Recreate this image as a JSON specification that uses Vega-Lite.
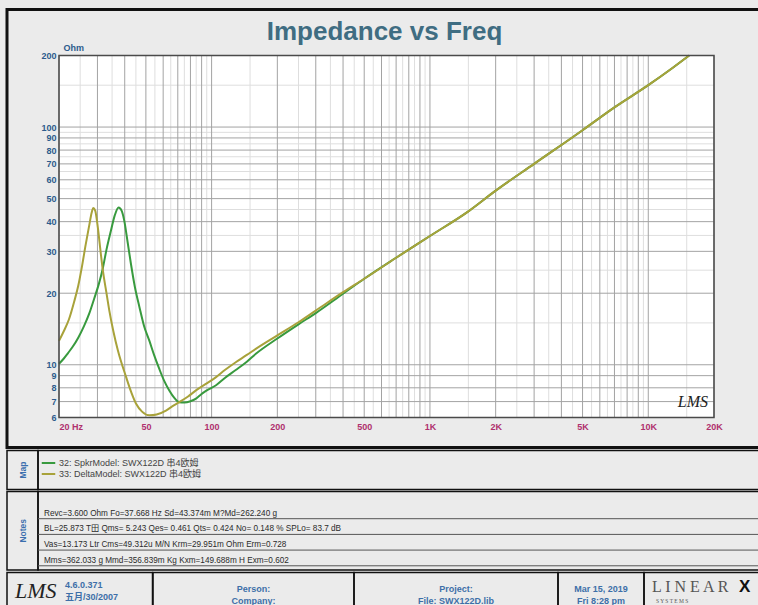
{
  "$schema": "https://vega.github.io/schema/vega-lite/v6.json",
  "background": "#ebebeb",
  "padding": {"left": 5, "top": 7.5, "right": 0, "bottom": 0},
  "spacing": 0,
  "config": {
    "view": {"stroke": "#111111", "strokeWidth": 1.5},
    "font": "Liberation Sans"
  },
  "datasets": {
    "curves": [
      {"series": "32: SpkrModel: SWX122D  串4欧姆", "f": 20, "z": 10.1},
      {"series": "32: SpkrModel: SWX122D  串4欧姆", "f": 21, "z": 10.6},
      {"series": "32: SpkrModel: SWX122D  串4欧姆", "f": 22, "z": 11.2},
      {"series": "32: SpkrModel: SWX122D  串4欧姆", "f": 23.1, "z": 11.9},
      {"series": "32: SpkrModel: SWX122D  串4欧姆", "f": 24.5, "z": 13.0},
      {"series": "32: SpkrModel: SWX122D  串4欧姆", "f": 26, "z": 14.5},
      {"series": "32: SpkrModel: SWX122D  串4欧姆", "f": 27.5, "z": 16.4},
      {"series": "32: SpkrModel: SWX122D  串4欧姆", "f": 29, "z": 19.0},
      {"series": "32: SpkrModel: SWX122D  串4欧姆", "f": 30.5, "z": 22.0},
      {"series": "32: SpkrModel: SWX122D  串4欧姆", "f": 31.7, "z": 25.3},
      {"series": "32: SpkrModel: SWX122D  串4欧姆", "f": 33, "z": 30.5},
      {"series": "32: SpkrModel: SWX122D  串4欧姆", "f": 34.6, "z": 36.7},
      {"series": "32: SpkrModel: SWX122D  串4欧姆", "f": 36, "z": 42.5},
      {"series": "32: SpkrModel: SWX122D  串4欧姆", "f": 37.5, "z": 45.9},
      {"series": "32: SpkrModel: SWX122D  串4欧姆", "f": 38.7, "z": 44.5},
      {"series": "32: SpkrModel: SWX122D  串4欧姆", "f": 39.8, "z": 40.4},
      {"series": "32: SpkrModel: SWX122D  串4欧姆", "f": 41.2, "z": 33.0},
      {"series": "32: SpkrModel: SWX122D  串4欧姆", "f": 42.7, "z": 26.6},
      {"series": "32: SpkrModel: SWX122D  串4欧姆", "f": 44.5, "z": 21.3},
      {"series": "32: SpkrModel: SWX122D  串4欧姆", "f": 46.7, "z": 17.5},
      {"series": "32: SpkrModel: SWX122D  串4欧姆", "f": 49, "z": 14.6},
      {"series": "32: SpkrModel: SWX122D  串4欧姆", "f": 51.9, "z": 12.6},
      {"series": "32: SpkrModel: SWX122D  串4欧姆", "f": 54.5, "z": 11.0},
      {"series": "32: SpkrModel: SWX122D  串4欧姆", "f": 57.6, "z": 9.6},
      {"series": "32: SpkrModel: SWX122D  串4欧姆", "f": 60.5, "z": 8.6},
      {"series": "32: SpkrModel: SWX122D  串4欧姆", "f": 64, "z": 7.8},
      {"series": "32: SpkrModel: SWX122D  串4欧姆", "f": 67.5, "z": 7.25},
      {"series": "32: SpkrModel: SWX122D  串4欧姆", "f": 71, "z": 6.96},
      {"series": "32: SpkrModel: SWX122D  串4欧姆", "f": 75, "z": 6.93},
      {"series": "32: SpkrModel: SWX122D  串4欧姆", "f": 80, "z": 7.02},
      {"series": "32: SpkrModel: SWX122D  串4欧姆", "f": 84.8, "z": 7.2},
      {"series": "32: SpkrModel: SWX122D  串4欧姆", "f": 89.4, "z": 7.5},
      {"series": "32: SpkrModel: SWX122D  串4欧姆", "f": 95, "z": 7.8},
      {"series": "32: SpkrModel: SWX122D  串4欧姆", "f": 104.8, "z": 8.2},
      {"series": "32: SpkrModel: SWX122D  串4欧姆", "f": 115, "z": 8.8},
      {"series": "32: SpkrModel: SWX122D  串4欧姆", "f": 129, "z": 9.5},
      {"series": "32: SpkrModel: SWX122D  串4欧姆", "f": 145, "z": 10.3},
      {"series": "32: SpkrModel: SWX122D  串4欧姆", "f": 160, "z": 11.15},
      {"series": "32: SpkrModel: SWX122D  串4欧姆", "f": 200, "z": 12.9},
      {"series": "32: SpkrModel: SWX122D  串4欧姆", "f": 250, "z": 14.8},
      {"series": "32: SpkrModel: SWX122D  串4欧姆", "f": 300, "z": 16.5},
      {"series": "32: SpkrModel: SWX122D  串4欧姆", "f": 400, "z": 19.9},
      {"series": "32: SpkrModel: SWX122D  串4欧姆", "f": 500, "z": 23.0},
      {"series": "32: SpkrModel: SWX122D  串4欧姆", "f": 700, "z": 28.2},
      {"series": "32: SpkrModel: SWX122D  串4欧姆", "f": 1000, "z": 34.8},
      {"series": "32: SpkrModel: SWX122D  串4欧姆", "f": 1500, "z": 44.2},
      {"series": "32: SpkrModel: SWX122D  串4欧姆", "f": 2000, "z": 54},
      {"series": "32: SpkrModel: SWX122D  串4欧姆", "f": 3000, "z": 70},
      {"series": "32: SpkrModel: SWX122D  串4欧姆", "f": 5000, "z": 97},
      {"series": "32: SpkrModel: SWX122D  串4欧姆", "f": 7000, "z": 121},
      {"series": "32: SpkrModel: SWX122D  串4欧姆", "f": 10000, "z": 150},
      {"series": "32: SpkrModel: SWX122D  串4欧姆", "f": 13000, "z": 178},
      {"series": "32: SpkrModel: SWX122D  串4欧姆", "f": 15400, "z": 200},
      {"series": "33: DeltaModel: SWX122D  串4欧姆", "f": 20, "z": 12.6},
      {"series": "33: DeltaModel: SWX122D  串4欧姆", "f": 21, "z": 13.8},
      {"series": "33: DeltaModel: SWX122D  串4欧姆", "f": 22.2, "z": 15.5},
      {"series": "33: DeltaModel: SWX122D  串4欧姆", "f": 23.5, "z": 18.5},
      {"series": "33: DeltaModel: SWX122D  串4欧姆", "f": 24.5, "z": 21.5},
      {"series": "33: DeltaModel: SWX122D  串4欧姆", "f": 25.5, "z": 26.0},
      {"series": "33: DeltaModel: SWX122D  串4欧姆", "f": 26.5, "z": 32.0},
      {"series": "33: DeltaModel: SWX122D  串4欧姆", "f": 27.5, "z": 38.5},
      {"series": "33: DeltaModel: SWX122D  串4欧姆", "f": 28.2, "z": 43.5},
      {"series": "33: DeltaModel: SWX122D  串4欧姆", "f": 28.7, "z": 45.7},
      {"series": "33: DeltaModel: SWX122D  串4欧姆", "f": 29.3, "z": 44.5},
      {"series": "33: DeltaModel: SWX122D  串4欧姆", "f": 30.1, "z": 38.0},
      {"series": "33: DeltaModel: SWX122D  串4欧姆", "f": 31, "z": 30.0},
      {"series": "33: DeltaModel: SWX122D  串4欧姆", "f": 31.7, "z": 25.3},
      {"series": "33: DeltaModel: SWX122D  串4欧姆", "f": 33, "z": 20.0},
      {"series": "33: DeltaModel: SWX122D  串4欧姆", "f": 34, "z": 16.9},
      {"series": "33: DeltaModel: SWX122D  串4欧姆", "f": 35.5, "z": 13.8},
      {"series": "33: DeltaModel: SWX122D  串4欧姆", "f": 37.2, "z": 11.5},
      {"series": "33: DeltaModel: SWX122D  串4欧姆", "f": 40.6, "z": 8.87},
      {"series": "33: DeltaModel: SWX122D  串4欧姆", "f": 43, "z": 7.6},
      {"series": "33: DeltaModel: SWX122D  串4欧姆", "f": 45.1, "z": 6.85},
      {"series": "33: DeltaModel: SWX122D  串4欧姆", "f": 48, "z": 6.35},
      {"series": "33: DeltaModel: SWX122D  串4欧姆", "f": 51.9, "z": 6.13},
      {"series": "33: DeltaModel: SWX122D  串4欧姆", "f": 56, "z": 6.18},
      {"series": "33: DeltaModel: SWX122D  串4欧姆", "f": 61.8, "z": 6.42},
      {"series": "33: DeltaModel: SWX122D  串4欧姆", "f": 66, "z": 6.68},
      {"series": "33: DeltaModel: SWX122D  串4欧姆", "f": 71.1, "z": 6.96},
      {"series": "33: DeltaModel: SWX122D  串4欧姆", "f": 78, "z": 7.35},
      {"series": "33: DeltaModel: SWX122D  串4欧姆", "f": 84.8, "z": 7.8},
      {"series": "33: DeltaModel: SWX122D  串4欧姆", "f": 95, "z": 8.35},
      {"series": "33: DeltaModel: SWX122D  串4欧姆", "f": 104.8, "z": 8.87},
      {"series": "33: DeltaModel: SWX122D  串4欧姆", "f": 115, "z": 9.5},
      {"series": "33: DeltaModel: SWX122D  串4欧姆", "f": 129, "z": 10.25},
      {"series": "33: DeltaModel: SWX122D  串4欧姆", "f": 145, "z": 11.0},
      {"series": "33: DeltaModel: SWX122D  串4欧姆", "f": 160, "z": 11.7},
      {"series": "33: DeltaModel: SWX122D  串4欧姆", "f": 200, "z": 13.3},
      {"series": "33: DeltaModel: SWX122D  串4欧姆", "f": 250, "z": 15.1},
      {"series": "33: DeltaModel: SWX122D  串4欧姆", "f": 300, "z": 16.9},
      {"series": "33: DeltaModel: SWX122D  串4欧姆", "f": 400, "z": 20.2},
      {"series": "33: DeltaModel: SWX122D  串4欧姆", "f": 500, "z": 23.0},
      {"series": "33: DeltaModel: SWX122D  串4欧姆", "f": 700, "z": 28.2},
      {"series": "33: DeltaModel: SWX122D  串4欧姆", "f": 1000, "z": 34.8},
      {"series": "33: DeltaModel: SWX122D  串4欧姆", "f": 1500, "z": 44.2},
      {"series": "33: DeltaModel: SWX122D  串4欧姆", "f": 2000, "z": 54},
      {"series": "33: DeltaModel: SWX122D  串4欧姆", "f": 3000, "z": 70},
      {"series": "33: DeltaModel: SWX122D  串4欧姆", "f": 5000, "z": 97},
      {"series": "33: DeltaModel: SWX122D  串4欧姆", "f": 7000, "z": 121},
      {"series": "33: DeltaModel: SWX122D  串4欧姆", "f": 10000, "z": 150},
      {"series": "33: DeltaModel: SWX122D  串4欧姆", "f": 13000, "z": 178},
      {"series": "33: DeltaModel: SWX122D  串4欧姆", "f": 15400, "z": 200}
    ],
    "gridX": [
      {"f": 20, "kind": "major"}, {"f": 30, "kind": "major"}, {"f": 40, "kind": "major"}, {"f": 50, "kind": "major"},
      {"f": 60, "kind": "major"}, {"f": 70, "kind": "major"}, {"f": 80, "kind": "major"}, {"f": 90, "kind": "major"},
      {"f": 100, "kind": "major"}, {"f": 200, "kind": "major"}, {"f": 300, "kind": "major"}, {"f": 400, "kind": "major"},
      {"f": 500, "kind": "major"}, {"f": 600, "kind": "major"}, {"f": 700, "kind": "major"}, {"f": 800, "kind": "major"},
      {"f": 900, "kind": "major"}, {"f": 1000, "kind": "major"}, {"f": 2000, "kind": "major"}, {"f": 3000, "kind": "major"},
      {"f": 4000, "kind": "major"}, {"f": 5000, "kind": "major"}, {"f": 6000, "kind": "major"}, {"f": 7000, "kind": "major"},
      {"f": 8000, "kind": "major"}, {"f": 9000, "kind": "major"}, {"f": 10000, "kind": "major"}, {"f": 20000, "kind": "major"},
      {"f": 25, "kind": "minor"}, {"f": 35, "kind": "minor"}, {"f": 45, "kind": "minor"}, {"f": 55, "kind": "minor"},
      {"f": 65, "kind": "minor"}, {"f": 75, "kind": "minor"}, {"f": 85, "kind": "minor"}, {"f": 95, "kind": "minor"},
      {"f": 150, "kind": "minor"}, {"f": 250, "kind": "minor"}, {"f": 350, "kind": "minor"}, {"f": 450, "kind": "minor"},
      {"f": 550, "kind": "minor"}, {"f": 650, "kind": "minor"}, {"f": 750, "kind": "minor"}, {"f": 850, "kind": "minor"},
      {"f": 950, "kind": "minor"}, {"f": 1500, "kind": "minor"}, {"f": 2500, "kind": "minor"}, {"f": 3500, "kind": "minor"},
      {"f": 4500, "kind": "minor"}, {"f": 5500, "kind": "minor"}, {"f": 6500, "kind": "minor"}, {"f": 7500, "kind": "minor"},
      {"f": 8500, "kind": "minor"}, {"f": 9500, "kind": "minor"}, {"f": 15000, "kind": "minor"}
    ],
    "gridY": [
      {"z": 6, "kind": "major"}, {"z": 7, "kind": "major"}, {"z": 8, "kind": "major"}, {"z": 9, "kind": "major"},
      {"z": 10, "kind": "major"}, {"z": 20, "kind": "major"}, {"z": 30, "kind": "major"}, {"z": 40, "kind": "major"},
      {"z": 50, "kind": "major"}, {"z": 60, "kind": "major"}, {"z": 70, "kind": "major"}, {"z": 80, "kind": "major"},
      {"z": 90, "kind": "major"}, {"z": 100, "kind": "major"}, {"z": 200, "kind": "major"},
      {"z": 15, "kind": "minor"}, {"z": 25, "kind": "minor"}, {"z": 35, "kind": "minor"}, {"z": 45, "kind": "minor"},
      {"z": 55, "kind": "minor"}, {"z": 65, "kind": "minor"}, {"z": 75, "kind": "minor"}, {"z": 85, "kind": "minor"},
      {"z": 95, "kind": "minor"}, {"z": 150, "kind": "minor"}
    ],
    "notes": [
      {"row": 1, "text": "Revc=3.600 Ohm  Fo=37.668 Hz  Sd=43.374m M?Md=262.240 g"},
      {"row": 2, "text": "BL=25.873 T田  Qms= 5.243  Qes= 0.461  Qts= 0.424  No= 0.148 %  SPLo= 83.7 dB"},
      {"row": 3, "text": "Vas=13.173 Ltr  Cms=49.312u M/N  Krm=29.951m Ohm  Erm=0.728"},
      {"row": 4, "text": "Mms=362.033 g  Mmd=356.839m Kg  Kxm=149.688m H  Exm=0.602"}
    ]
  },
  "vconcat": [
    {
      "width": 755,
      "height": 438,
      "view": {"stroke": "#111111", "strokeWidth": 3, "fill": null},
      "title": {
        "text": "Impedance vs Freq",
        "offset": -35,
        "font": "Liberation Sans",
        "fontSize": 26,
        "fontWeight": "bold",
        "color": "#3f6d82",
        "anchor": "middle",
        "frame": "group"
      },
      "layer": [
        {
          "data": {"values": [{}]},
          "mark": {"type": "rect", "fill": "#ffffff"},
          "encoding": {
            "x": {"datum": 20, "type": "quantitative"},
            "x2": {"datum": 20000},
            "y": {"datum": 6, "type": "quantitative"},
            "y2": {"datum": 200}
          }
        },
        {
          "data": {"name": "gridX"},
          "transform": [{"filter": "datum.kind == 'minor'"}],
          "mark": {"type": "rule", "color": "#dedede", "strokeWidth": 1},
          "encoding": {
            "x": {"field": "f", "type": "quantitative"},
            "y": {"datum": 6, "type": "quantitative"},
            "y2": {"datum": 200}
          }
        },
        {
          "data": {"name": "gridY"},
          "transform": [{"filter": "datum.kind == 'minor'"}],
          "mark": {"type": "rule", "color": "#dedede", "strokeWidth": 1},
          "encoding": {
            "y": {"field": "z", "type": "quantitative"},
            "x": {"datum": 20, "type": "quantitative"},
            "x2": {"datum": 20000}
          }
        },
        {
          "data": {"name": "gridX"},
          "transform": [{"filter": "datum.kind == 'major'"}],
          "mark": {"type": "rule", "color": "#a3a3a3", "strokeWidth": 1},
          "encoding": {
            "x": {"field": "f", "type": "quantitative"},
            "y": {"datum": 6, "type": "quantitative"},
            "y2": {"datum": 200}
          }
        },
        {
          "data": {"name": "gridY"},
          "transform": [{"filter": "datum.kind == 'major'"}],
          "mark": {"type": "rule", "color": "#a3a3a3", "strokeWidth": 1},
          "encoding": {
            "y": {"field": "z", "type": "quantitative"},
            "x": {"datum": 20, "type": "quantitative"},
            "x2": {"datum": 20000}
          }
        },
        {
          "data": {"name": "curves"},
          "mark": {"type": "line", "strokeWidth": 2, "interpolate": "monotone"},
          "encoding": {
            "x": {
              "field": "f",
              "type": "quantitative",
              "scale": {"type": "log", "domain": [20, 20000], "range": [52, 707], "nice": false},
              "axis": {
                "title": null,
                "values": [20, 50, 100, 200, 500, 1000, 2000, 5000, 10000, 20000],
                "labelExpr": "datum.value == 20 ? '20 Hz' : (datum.value >= 1000 ? (datum.value / 1000) + 'K' : '' + datum.value)",
                "labelAlign": {"expr": "datum.value == 20 ? 'left' : 'center'"},
                "offset": -30,
                "grid": false,
                "domain": false,
                "ticks": false,
                "tickSize": 0,
                "labelPadding": 5,
                "labelColor": "#b0306e",
                "labelFont": "Liberation Sans",
                "labelFontWeight": "bold",
                "labelFontSize": 9,
                "labelOverlap": false,
                "labelFlush": false
              }
            },
            "y": {
              "field": "z",
              "type": "quantitative",
              "scale": {"type": "log", "domain": [6, 200], "range": [408, 46], "nice": false},
              "axis": {
                "title": "Ohm",
                "values": [6, 7, 8, 9, 10, 20, 30, 40, 50, 60, 70, 80, 90, 100, 200],
                "labelExpr": "'' + datum.value",
                "offset": -52,
                "grid": false,
                "domain": false,
                "ticks": false,
                "tickSize": 0,
                "labelPadding": 3,
                "labelColor": "#2d5b8c",
                "labelFont": "Liberation Sans",
                "labelFontWeight": "bold",
                "labelFontSize": 9,
                "labelOverlap": false,
                "labelFlush": false,
                "titleAngle": 0,
                "titleX": 4,
                "titleY": 43,
                "titleAlign": "left",
                "titleBaseline": "bottom",
                "titleColor": "#2d5b8c",
                "titleFont": "Liberation Sans",
                "titleFontWeight": "bold",
                "titleFontSize": 9
              }
            },
            "color": {
              "field": "series",
              "type": "nominal",
              "scale": {
                "domain": ["32: SpkrModel: SWX122D  串4欧姆", "33: DeltaModel: SWX122D  串4欧姆"],
                "range": ["#389a3e", "#a8a23a"]
              },
              "legend": {
                "title": null,
                "orient": "none",
                "legendX": 36,
                "legendY": 448,
                "padding": 0,
                "symbolType": "M-1.5,0L1.5,0",
                "symbolStrokeWidth": 2,
                "symbolSize": 81,
                "labelFont": "'Liberation Sans', 'Noto Sans CJK SC', sans-serif",
                "labelFontSize": 9,
                "labelColor": "#444444",
                "labelOffset": 5,
                "rowPadding": 0
              }
            }
          }
        },
        {
          "data": {"values": [{}]},
          "mark": {"type": "rect", "fill": null, "stroke": "#4a4a4a", "strokeWidth": 1.5},
          "encoding": {
            "x": {"datum": 20, "type": "quantitative"},
            "x2": {"datum": 20000},
            "y": {"datum": 6, "type": "quantitative"},
            "y2": {"datum": 200}
          }
        },
        {
          "data": {"values": [{"label": "LMS"}]},
          "mark": {"type": "text", "font": "Liberation Serif", "fontStyle": "italic", "fontSize": 16, "color": "#222222"},
          "encoding": {
            "x": {"datum": 16000, "type": "quantitative"},
            "y": {"datum": 6.95, "type": "quantitative"},
            "text": {"field": "label"}
          }
        }
      ]
    },
    {
      "spacing": 0,
      "bounds": "flush",
      "hconcat": [
        {
          "width": 31,
          "height": 39,
          "data": {"values": [{"label": "Map"}]},
          "mark": {"type": "text", "angle": 270, "align": "center", "baseline": "middle", "dy": 15.5, "fontSize": 8.5, "fontWeight": "bold", "color": "#3b6fae"},
          "encoding": {"x": {"value": 0}, "text": {"field": "label"}}
        },
        {
          "width": 724,
          "height": 39,
          "data": {"values": [{"label": ""}]},
          "mark": {"type": "text"},
          "encoding": {"x": {"value": 0}, "text": {"field": "label"}}
        }
      ]
    },
    {
      "spacing": 0,
      "bounds": "flush",
      "hconcat": [
        {
          "width": 31,
          "height": 78.5,
          "data": {"values": [{"label": "Notes"}]},
          "mark": {"type": "text", "angle": 270, "align": "center", "baseline": "middle", "dy": 15.5, "fontSize": 8.5, "fontWeight": "bold", "color": "#3b6fae"},
          "encoding": {"x": {"value": 0}, "text": {"field": "label"}}
        },
        {
          "width": 724,
          "height": 78.5,
          "data": {"name": "notes"},
          "encoding": {
            "y": {
              "field": "row",
              "type": "ordinal",
              "scale": {"type": "point", "padding": 1.082, "align": 0.866},
              "axis": null
            }
          },
          "layer": [
            {"mark": {"type": "rule", "color": "#555555", "strokeWidth": 1}},
            {
              "mark": {"type": "text", "align": "left", "baseline": "bottom", "dx": 6, "dy": -1, "fontSize": 8.2, "color": "#2a2a2a", "font": "'Liberation Sans', 'Noto Sans CJK SC', sans-serif"},
              "encoding": {"x": {"value": 0}, "text": {"field": "text"}}
            }
          ]
        }
      ]
    },
    {
      "spacing": 0,
      "bounds": "flush",
      "hconcat": [
        {
          "width": 145.5,
          "height": 40,
          "data": {"values": [{"logo": "LMS", "ver": "4.6.0.371\n五月/30/2007"}]},
          "layer": [
            {
              "mark": {"type": "text", "align": "left", "dx": 8, "dy": -2, "font": "Liberation Serif", "fontStyle": "italic", "fontSize": 22, "color": "#222222"},
              "encoding": {"x": {"value": 0}, "text": {"field": "logo"}}
            },
            {
              "mark": {"type": "text", "align": "left", "dx": 58, "dy": -8, "lineBreak": "\n", "lineHeight": 12, "fontSize": 9, "fontWeight": "bold", "color": "#3d6fa8", "font": "'Liberation Sans', 'Noto Sans CJK SC', sans-serif"},
              "encoding": {"x": {"value": 0}, "text": {"field": "ver"}}
            }
          ]
        },
        {
          "width": 201,
          "height": 40,
          "data": {"values": [{"t": "Person:\nCompany:"}]},
          "mark": {"type": "text", "align": "center", "dx": 100.5, "dy": -4, "lineBreak": "\n", "lineHeight": 12, "fontSize": 9, "fontWeight": "bold", "color": "#3d6fa8"},
          "encoding": {"x": {"value": 0}, "text": {"field": "t"}}
        },
        {
          "width": 204,
          "height": 40,
          "data": {"values": [{"t": "Project:\nFile: SWX122D.lib"}]},
          "mark": {"type": "text", "align": "center", "dx": 102, "dy": -4, "lineBreak": "\n", "lineHeight": 12, "fontSize": 9, "fontWeight": "bold", "color": "#3d6fa8"},
          "encoding": {"x": {"value": 0}, "text": {"field": "t"}}
        },
        {
          "width": 86,
          "height": 40,
          "data": {"values": [{"t": "Mar 15, 2019\nFri  8:28 pm"}]},
          "mark": {"type": "text", "align": "center", "dx": 43, "dy": -4, "lineBreak": "\n", "lineHeight": 12, "fontSize": 9, "fontWeight": "bold", "color": "#3d6fa8"},
          "encoding": {"x": {"value": 0}, "text": {"field": "t"}}
        },
        {
          "width": 125,
          "height": 40,
          "data": {"values": [{"a": "L I N E A R", "b": "X", "c": "S   Y   S   T   E   M   S"}]},
          "layer": [
            {
              "mark": {"type": "text", "align": "left", "dx": 8, "dy": -6, "font": "Liberation Serif", "fontSize": 16, "color": "#555555"},
              "encoding": {"x": {"value": 0}, "text": {"field": "a"}}
            },
            {
              "mark": {"type": "text", "align": "left", "dx": 95, "dy": -6, "font": "Liberation Sans", "fontWeight": "bold", "fontSize": 17, "color": "#111111"},
              "encoding": {"x": {"value": 0}, "text": {"field": "b"}}
            },
            {
              "mark": {"type": "text", "align": "left", "dx": 12, "dy": 8, "font": "Liberation Serif", "fontSize": 5.5, "color": "#555555"},
              "encoding": {"x": {"value": 0}, "text": {"field": "c"}}
            }
          ]
        }
      ]
    }
  ]
}
